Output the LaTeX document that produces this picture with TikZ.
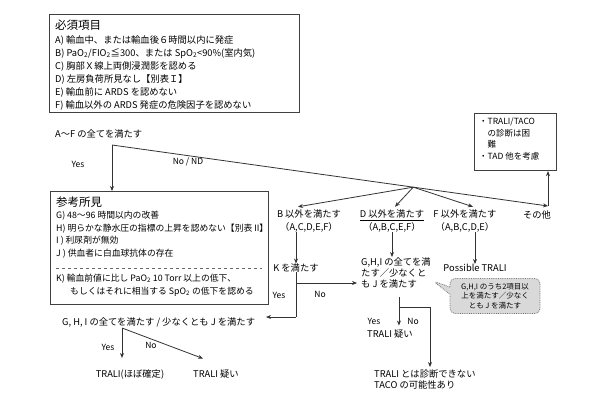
\documentclass[tikz,border=0pt]{standalone}
\usepackage{fontspec}
\setmainfont{Noto Sans CJK JP}
\usetikzlibrary{arrows.meta,shapes.callouts,calc}
\begin{document}
\begin{tikzpicture}[x=1pt,y=-1pt,
  txt/.style={inner sep=0pt, font=\fontsize{9.3}{12.5}\selectfont, text=black},
  rtx/.style={inner sep=0pt, font=\fontsize{8.8}{12.5}\selectfont, text=black},
  ttl/.style={inner sep=0pt, font=\fontsize{11.5}{13}\selectfont, text=black},
  sml/.style={inner sep=0pt, font=\fontsize{8.5}{11.5}\selectfont, text=black},
  tiny/.style={inner sep=0pt, font=\fontsize{7.5}{9.5}\selectfont, text=black},
  frame/.style={draw=black!75, line width=1.1pt, inner sep=0pt},
  ln/.style={draw=black!80, line width=0.8pt},
  arr/.style={ln, -{Stealth[length=5pt,width=4pt]}},
]
\useasboundingbox[fill=white] (0,0) rectangle (616,392);

% required criteria box
\node[frame, minimum width=250pt, minimum height=98pt, anchor=north west] (req) at (49,14) {};
\node[ttl, anchor=base west] (reqT) at (55,29) {必須項目};
\node[txt, anchor=base west] (reqA) at (55,43) {A) 輸血中、または輸血後６時間以内に発症};
\node[txt, anchor=base west] (reqB) at (55,56) {B) PaO\textsubscript{2}/FIO\textsubscript{2}≦300、または SpO\textsubscript{2}<90\%(室内気)};
\node[txt, anchor=base west] (reqC) at (55,69) {C) 胸部Ｘ線上両側浸潤影を認める};
\node[txt, anchor=base west] (reqD) at (55,82) {D) 左房負荷所見なし【別表Ｉ】};
\node[txt, anchor=base west] (reqE) at (55,95) {E) 輸血前に ARDS を認めない};
\node[txt, anchor=base west] (reqF) at (55,108) {F) 輸血以外の ARDS 発症の危険因子を認めない};

\node[txt, anchor=base west] (allAF) at (55,137) {A〜F の全てを満たす};
\coordinate (c0) at (112,145);
\node[sml] (yes1) at (78,164) {Yes};
\node[sml] (no1) at (188,162) {No / ND};

% reference findings box
\node[frame, minimum width=218pt, minimum height=113pt, anchor=north west] (ref) at (50,191) {};
\node[ttl, anchor=base west] (refT) at (56,206) {参考所見};
\node[rtx, anchor=base west] (refG) at (56,218.5) {G) 48〜96 時間以内の改善};
\node[rtx, anchor=base west] (refH) at (56,231) {H) 明らかな静水圧の指標の上昇を認めない【別表 II】};
\node[rtx, anchor=base west] (refI) at (56,243.5) {I ) 利尿剤が無効};
\node[rtx, anchor=base west] (refJ) at (56,256) {J ) 供血者に白血球抗体の存在};
\draw[ln, dashed, draw=black!60] (56,268) -- (262,268);
\node[rtx, anchor=base west] (refK) at (56,281.5) {K) 輸血前値に比し PaO\textsubscript{2} 10 Torr 以上の低下、};
\node[rtx, anchor=base west] (refK2) at (70,294.5) {もしくはそれに相当する SpO\textsubscript{2} の低下を認める};

\draw[arr] (c0) -- (c0 |- ref.north);

% main branch line
\coordinate (cs) at (548,206);
\coordinate (cv) at ($(c0)!0.691!(cs)$);
\draw[ln] (c0) -- (cv);
\draw[arr] (cv) -- (cs);

% options
\node[txt, align=center] (optB) at (309,221) {B 以外を満たす\\（A,C,D,E,F）};
\node[txt, align=center] (optD) at (392,221) {\underline{D 以外を満たす}\\（A,B,C,E,F）};
\node[txt, align=center] (optF) at (465,221) {F 以外を満たす\\（A,B,C,D,E）};
\node[txt] (other) at (537,215) {その他};
\draw[arr] (cv) -- ([xshift=-11pt,yshift=3pt]optB.north);
\draw[arr] (cv) -- ([xshift=3pt,yshift=3pt]optD.north);
\draw[arr] (cv) -- ([xshift=8pt,yshift=3pt]optF.north);

% difficult box
\node[frame, minimum width=82pt, minimum height=57pt, anchor=north west] (tb) at (474,113) {};
\node[sml, anchor=north west, align=left] (tbT) at (479,118) {・TRALI/TACO\\\hspace{1em}の診断は困\\\hspace{1em}難\\・TAD 他を考慮};
\draw[arr] (cs) -- (cs |- tb.south);

% column B
\node[txt] (kmeet) at (296,268) {K を満たす};
\draw[arr] (optB.south -| kmeet.north) -- (kmeet.north);

% column D
\node[txt, anchor=north west, align=left, font=\fontsize{9.3}{11}\selectfont] (ghj) at (361,257) {G,H,I の全てを満\\たす／少なくと\\も J を満たす};
\draw[arr] (optD.south) -- (optD.south |- ghj.north);

% column F
\node[txt] (pt) at (475,268) {Possible TRALI};
\draw[arr] (optF.south -| pt.north) -- (pt.north);

% callout
\coordinate (cotip) at (433,281);
\node[rectangle callout, rounded corners=5pt, fill=black!15, draw=black!55, densely dotted, line width=0.8pt,
      minimum width=90pt, minimum height=35pt, align=center, tiny,
      callout absolute pointer={(cotip)}] (co) at (495,296) {G,H,I のうち2項目以\\上を満たす／少なく\\とも J を満たす};

% K branch
\coordinate (kj) at (296,283);
\coordinate (ky) at (296,317);
\coordinate (kyend) at (266,317);
\draw[ln] (kmeet.south) -- (ky);
\draw[arr] (kj) -- ([xshift=-4pt]kj -| ghj.west);
\draw[arr] (ky) -- (kyend);
\node[sml] (yes2) at (279,295) {Yes};
\node[sml] (no2) at (320,294) {No};

% left bottom
\node[txt, anchor=base west] (gall) at (62,325) {G, H, I の全てを満たす / 少なくとも J を満たす};
\coordinate (gs) at (122,328);
\node[txt] (tr1) at (130,374) {TRALI(ほぼ確定)};
\node[txt] (tr2) at (216,374) {TRALI 疑い};
\draw[arr] (gs) -- ([yshift=11pt]gs |- tr1.north);
\draw[arr] (gs) -- ([xshift=-13pt,yshift=11pt]tr2.north);
\node[sml] (yes3) at (108,347) {Yes};
\node[sml] (no3) at (151,345) {No};

% middle bottom
\coordinate (ms) at ($(ghj.south)+(3,9)$);
\coordinate (mb) at ($(ms)+(0,10)$);
\node[txt] (tr3) at (390,334) {TRALI 疑い};
\node[txt, anchor=north west, align=left, font=\fontsize{9.3}{11}\selectfont] (nt) at (374,369) {TRALI とは診断できない\\TACO の可能性あり};
\coordinate (mr) at (430,0);
\draw[arr] (ms) -- ([yshift=4pt]ms |- tr3.north);
\draw[arr] (mb) -| ([yshift=2pt]nt.north -| mr);
\node[sml] (yes4) at (374,321) {Yes};
\node[sml] (no4) at (413,321) {No};
\end{tikzpicture}
\end{document}
